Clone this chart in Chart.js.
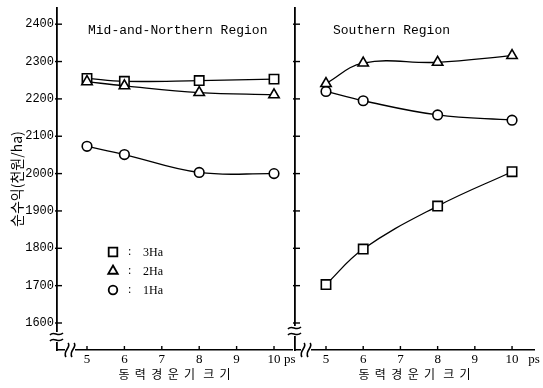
<!DOCTYPE html>
<html><head><meta charset="utf-8">
<script src="https://cdn.jsdelivr.net/npm/chart.js@4/dist/chart.umd.min.js"></script>
<style>
html,body{margin:0;padding:0;background:#fff;}
#wrap{position:relative;width:543px;height:388px;background:#fff;}
canvas{position:absolute;left:0;top:0;}
</style></head><body>
<div id="wrap"><canvas id="cL" width="543" height="388"></canvas><canvas id="cR" width="543" height="388"></canvas></div>
<script>
// ---- data ----
const powerPs = [5, 6, 8, 10];
const xTickValues = [5, 6, 7, 8, 9, 10];
const yTickValues = [1600, 1700, 1800, 1900, 2000, 2100, 2200, 2300, 2400];
const midNorth3Ha = [2255, 2247, 2249, 2253];
const midNorth2Ha = [2246, 2235, 2217, 2211];
const midNorth1Ha = [2073, 2051, 2003, 2000];
const south3Ha = [1703, 1798, 1913, 2005];
const south2Ha = [2241, 2296, 2298, 2316];
const south1Ha = [2220, 2195, 2157, 2143];
const seriesNames = ['3Ha', '2Ha', '1Ha'];
const seriesStyles = ['rect', 'triangle', 'circle'];
const regionTitles = ['Mid-and-Northern Region', 'Southern Region'];
const yTitle = '순수익(천원/ha)';
const xTitle = '동  력  경  운  기   크  기';
const unitLabel = 'ps';

const Y_MIN = 1527.7, Y_MAX = 2442.8;
const radii = {rect: 6.6, triangle: 6, circle: 4.8};

function ds(label, style, vals) {
  return {
    label, data: powerPs.map((x, i) => ({x, y: vals[i]})),
    borderColor: '#000', borderWidth: 1.3, backgroundColor: '#fff',
    pointStyle: style, pointRadius: radii[style], pointBorderWidth: 1.6,
    pointBackgroundColor: '#fff', pointBorderColor: '#000',
    tension: 0.4, fill: false, clip: false
  };
}

function vBreak(ctx, x, y) {
  ctx.save();
  ctx.fillStyle = '#fff';
  ctx.fillRect(x - 3, y - 5, 6, 10);
  ctx.strokeStyle = '#000'; ctx.lineWidth = 1.6;
  [-3, 3].forEach(dy => {
    ctx.beginPath();
    ctx.moveTo(x - 7, y + dy + 1);
    ctx.bezierCurveTo(x - 3, y + dy - 4, x + 1, y + dy + 4, x + 6, y + dy - 1);
    ctx.stroke();
  });
  ctx.restore();
}
function hBreak(ctx, x, y) {
  ctx.save();
  ctx.fillStyle = '#fff';
  ctx.fillRect(x - 5, y - 3, 10, 6);
  ctx.strokeStyle = '#000'; ctx.lineWidth = 1.6;
  [-3, 3].forEach(dx => {
    ctx.beginPath();
    ctx.moveTo(x + dx + 1, y - 7);
    ctx.bezierCurveTo(x + dx + 5, y - 3, x + dx - 5, y + 1, x + dx - 1, y + 7);
    ctx.stroke();
  });
  ctx.restore();
}

const decorPlugin = {
  id: 'decor',
  afterDraw(chart, args, opts) {
    const ctx = chart.ctx;
    const xs = chart.scales.x, ys = chart.scales.y;
    const a = chart.chartArea;
    ctx.save();
    ctx.strokeStyle = '#000'; ctx.lineWidth = 1.4;
    xTickValues.forEach(v => {
      const px = xs.getPixelForValue(v);
      ctx.beginPath(); ctx.moveTo(px, a.bottom); ctx.lineTo(px, a.bottom - 4); ctx.stroke();
    });
    yTickValues.forEach(v => {
      const py = ys.getPixelForValue(v);
      ctx.beginPath(); ctx.moveTo(a.left - 2, py); ctx.lineTo(a.left + 5, py); ctx.stroke();
    });
    // region title
    ctx.fillStyle = '#000';
    ctx.font = '13px "Liberation Mono", "DejaVu Sans Mono", monospace';
    ctx.textBaseline = 'middle'; ctx.textAlign = 'left';
    ctx.fillText(opts.title, opts.titleX, 31);
    // axis breaks
    vBreak(ctx, a.left, opts.vBreakY);
    hBreak(ctx, a.left + opts.hBreakDx, a.bottom);
    // legend
    if (opts.legend) {
      ctx.font = '12px "Liberation Serif", serif';
      seriesNames.forEach((name, i) => {
        const y = 252 + i * 19;
        ctx.fillStyle = '#fff'; ctx.strokeStyle = '#000'; ctx.lineWidth = 1.8;
        Chart.helpers.drawPoint(ctx, {pointStyle: seriesStyles[i], radius: radii[seriesStyles[i]] - 0.5, borderWidth: 1.8, rotation: 0}, 113, y);
        ctx.fillStyle = '#000';
        ctx.fillText(':', 128, y);
        ctx.fillText(name, 143, y + 1);
      });
    }
    ctx.restore();
  }
};

function makeChart(id, cfg) {
  return new Chart(document.getElementById(id), {
    type: 'line',
    data: {datasets: cfg.datasets},
    options: {
      responsive: false, animation: false,
      layout: {padding: {left: cfg.padL, right: cfg.padR, top: 3, bottom: 0}},
      plugins: {legend: {display: false}, tooltip: {enabled: false},
        decor: {title: cfg.title, titleX: cfg.titleX, legend: cfg.legend, vBreakY: cfg.vBreakY, hBreakDx: cfg.hBreakDx}},
      scales: {
        x: {
          type: 'linear', position: 'bottom', min: cfg.xMin, max: cfg.xMax,
          afterFit: s => { s.height = 38; s.paddingLeft = 0; s.paddingRight = 0; },
          afterBuildTicks: s => { s.ticks = xTickValues.map(v => ({value: v})).concat([{value: cfg.psValue}]); },
          grid: {display: false, drawTicks: false},
          border: {display: true, color: '#000', width: 1.6},
          ticks: {autoSkip: false, maxRotation: 0, padding: 2, color: '#000',
            font: {family: '"Liberation Serif", serif', size: 13},
            callback: v => (v === cfg.psValue ? unitLabel : String(v))},
          title: {display: true, text: xTitle, color: '#000', padding: {top: 0, bottom: 6},
            font: {family: '"Noto Sans CJK KR", sans-serif', size: 12}}
        },
        y: {
          type: 'linear', position: 'left', min: Y_MIN, max: Y_MAX,
          afterFit: s => { s.width = cfg.yWidth; s.paddingTop = 0; s.paddingBottom = 0; },
          afterBuildTicks: s => { s.ticks = yTickValues.map(v => ({value: v})); },
          grid: {display: false, drawTicks: false},
          border: {display: true, color: '#000', width: 1.8},
          ticks: {display: cfg.yLabels, padding: 3, color: '#000',
            font: {family: '"Liberation Mono", monospace', size: 12},
            callback: v => String(v)},
          title: {display: cfg.yLabels, text: yTitle, color: '#000', padding: {top: 8, bottom: 0},
            font: {family: '"Noto Sans CJK KR", sans-serif', size: 14}}
        }
      }
    },
    plugins: [decorPlugin]
  });
}

makeChart('cL', {
  padL: 0, padR: 251, yWidth: 57, yLabels: true,
  xMin: 4.198, xMax: 10.481, psValue: 10.42,
  title: regionTitles[0], titleX: 88, legend: true, vBreakY: 337, hBreakDx: 13,
  datasets: [ds(seriesNames[1], 'triangle', midNorth2Ha), ds(seriesNames[2], 'circle', midNorth1Ha), ds(seriesNames[0], 'rect', midNorth3Ha)]
});
makeChart('cR', {
  padL: 295, padR: 9, yWidth: 0, yLabels: false,
  xMin: 4.167, xMax: 10.59, psValue: 10.59,
  title: regionTitles[1], titleX: 333, legend: false, vBreakY: 331, hBreakDx: 11,
  datasets: [ds(seriesNames[1], 'triangle', south2Ha), ds(seriesNames[2], 'circle', south1Ha), ds(seriesNames[0], 'rect', south3Ha)]
});
</script>
</body></html>
